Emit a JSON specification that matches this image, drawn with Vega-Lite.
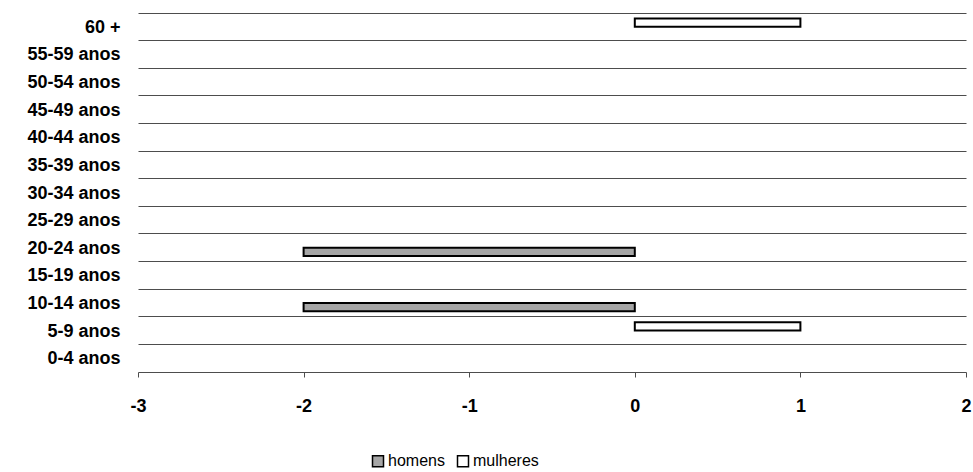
{
  "$schema": "https://vega.github.io/schema/vega-lite/v6.json",
  "width": 828,
  "height": 359,
  "autosize": {"type": "none"},
  "padding": {"left": 138, "top": 13, "right": 7, "bottom": 100},
  "background": "white",
  "config": {
    "view": {"stroke": null},
    "font": "Liberation Sans"
  },
  "data": {
    "values": [
      {"idade": "0-4 anos", "sexo": "homens", "valor": 0},
      {"idade": "0-4 anos", "sexo": "mulheres", "valor": 0},
      {"idade": "5-9 anos", "sexo": "homens", "valor": 0},
      {"idade": "5-9 anos", "sexo": "mulheres", "valor": 1},
      {"idade": "10-14 anos", "sexo": "homens", "valor": -2},
      {"idade": "10-14 anos", "sexo": "mulheres", "valor": 0},
      {"idade": "15-19 anos", "sexo": "homens", "valor": 0},
      {"idade": "15-19 anos", "sexo": "mulheres", "valor": 0},
      {"idade": "20-24 anos", "sexo": "homens", "valor": -2},
      {"idade": "20-24 anos", "sexo": "mulheres", "valor": 0},
      {"idade": "25-29 anos", "sexo": "homens", "valor": 0},
      {"idade": "25-29 anos", "sexo": "mulheres", "valor": 0},
      {"idade": "30-34 anos", "sexo": "homens", "valor": 0},
      {"idade": "30-34 anos", "sexo": "mulheres", "valor": 0},
      {"idade": "35-39 anos", "sexo": "homens", "valor": 0},
      {"idade": "35-39 anos", "sexo": "mulheres", "valor": 0},
      {"idade": "40-44 anos", "sexo": "homens", "valor": 0},
      {"idade": "40-44 anos", "sexo": "mulheres", "valor": 0},
      {"idade": "45-49 anos", "sexo": "homens", "valor": 0},
      {"idade": "45-49 anos", "sexo": "mulheres", "valor": 0},
      {"idade": "50-54 anos", "sexo": "homens", "valor": 0},
      {"idade": "50-54 anos", "sexo": "mulheres", "valor": 0},
      {"idade": "55-59 anos", "sexo": "homens", "valor": 0},
      {"idade": "55-59 anos", "sexo": "mulheres", "valor": 0},
      {"idade": "60 +", "sexo": "homens", "valor": 0},
      {"idade": "60 +", "sexo": "mulheres", "valor": 1}
    ]
  },
  "encoding": {
    "y": {
      "field": "idade",
      "type": "nominal",
      "title": null,
      "scale": {
        "domain": ["60 +", "55-59 anos", "50-54 anos", "45-49 anos", "40-44 anos", "35-39 anos", "30-34 anos", "25-29 anos", "20-24 anos", "15-19 anos", "10-14 anos", "5-9 anos", "0-4 anos"],
        "paddingInner": 0,
        "paddingOuter": 0
      },
      "axis": {
        "grid": true,
        "bandPosition": 0,
        "gridColor": "#4d4d4d",
        "gridWidth": 1,
        "gridOpacity": 1,
        "domain": false,
        "ticks": false,
        "labelFont": "Liberation Sans",
        "labelFontSize": 18,
        "labelFontWeight": "bold",
        "labelColor": "#000000",
        "labelPadding": 18,
        "labelOffset": 1
      }
    }
  },
  "layer": [
    {
      "transform": [{"filter": "datum.valor != 0"}],
      "mark": {"type": "bar", "stroke": "#000000", "strokeWidth": 2},
      "encoding": {
        "x": {
          "field": "valor",
          "type": "quantitative",
          "title": null,
          "scale": {"domain": [-3, 2], "nice": false, "zero": false},
          "axis": {
            "values": [-3, -2, -1, 0, 1, 2],
            "labelExpr": "datum.value < 0 ? '-' + abs(datum.value) : '' + datum.value",
            "grid": false,
            "domainColor": "#4d4d4d",
            "domainWidth": 1,
            "tickColor": "#4d4d4d",
            "tickSize": 5,
            "labelFont": "Liberation Sans",
            "labelFontSize": 18,
            "labelFontWeight": "bold",
            "labelColor": "#000000",
            "labelPadding": 20,
            "labelFlush": false
          }
        },
        "yOffset": {
          "field": "sexo",
          "type": "nominal",
          "sort": ["mulheres", "homens"],
          "scale": {"domain": ["mulheres", "homens"], "paddingInner": 0, "paddingOuter": 0.68}
        },
        "color": {
          "field": "sexo",
          "type": "nominal",
          "scale": {"domain": ["homens", "mulheres"], "range": ["#a6a6a6", "#ffffff"]},
          "legend": {
            "title": null,
            "orient": "none",
            "direction": "horizontal",
            "legendX": 232,
            "legendY": 440,
            "symbolType": "square",
            "symbolSize": 121,
            "symbolStrokeColor": "#000000",
            "symbolStrokeWidth": 1.5,
            "labelFont": "Liberation Sans",
            "labelFontSize": 16,
            "labelColor": "#000000",
            "labelOffset": 2,
            "columnPadding": 9
          }
        }
      }
    },
    {
      "mark": {"type": "rule", "color": "#4d4d4d", "strokeWidth": 1},
      "encoding": {"x": {"datum": 0, "type": "quantitative"}}
    }
  ]
}
